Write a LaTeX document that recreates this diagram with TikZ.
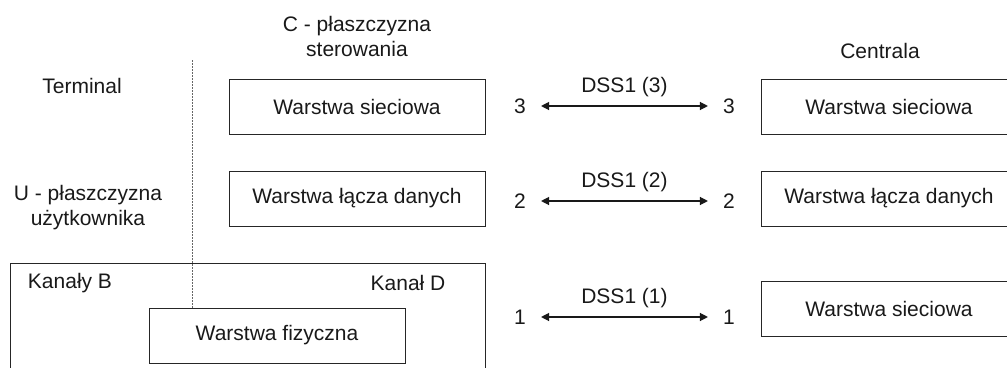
\documentclass[tikz,border=0pt]{standalone}
\usepackage{fontspec}
\setmainfont{Liberation Sans}
\usetikzlibrary{arrows.meta}
\begin{document}
\begin{tikzpicture}[x=1pt,y=-1pt,
  every node/.style={font=\fontsize{21}{25}\selectfont, text=black!90},
  layer/.style={draw=black!85, line width=1pt, minimum width=256pt, minimum height=55pt, inner sep=0pt},
  num/.style={inner xsep=15pt, inner ysep=0pt},
  link/.style={line width=1.2pt, draw=black!90, {Triangle[length=8pt,width=8pt]}-{Triangle[length=8pt,width=8pt]}},
  lbl/.style={above=6pt, inner sep=3pt},
  caption/.style={align=center, inner sep=0pt}
]
\useasboundingbox (0,0) rectangle (1007,367);
\clip (0,0) rectangle (1007,367);

% column headings
\node[caption] (cplane) at (357,36) {C - płaszczyzna\\sterowania};
\node[caption] (term) at (82,86) {Terminal};
\node[caption] (uplane) at (88,208) {U - płaszczyzna\\użytkownika};
\node[caption] (centr) at (880,51) {Centrala};

% terminal side layers
\node[layer] (netL) at (357,106.5) {Warstwa sieciowa};
\node[layer] (dlL) at (357,198.5) {Warstwa łącza danych};

% physical layer frame with B and D channels
\draw[draw=black!85, line width=1pt] (10,380) |- (485,263) -- (485,380);
\node[caption] (chB) at (70,283) {Kanały B};
\node[caption] (chD) at (408,283) {Kanał D};
\node[layer] (phys) at (277,335.5) {Warstwa fizyczna};

% separator between U and C planes
\coordinate (dtop) at (192,60);
\draw[black!60, line width=1pt, dash pattern=on 1.5pt off 1.5pt] (dtop) -- (dtop |- phys.north);

% exchange side layers
\node[layer] (netR) at (889,106.5) {Warstwa sieciowa};
\node[layer] (dlR) at (889,198.5) {Warstwa łącza danych};
\node[layer] (physR) at (889,308.5) {Warstwa sieciowa};

% peer-to-peer DSS1 links
\node[num] (n3l) at (520,106) {3};
\node[num] (n3r) at (729,106) {3};
\node[num] (n2l) at (520,201) {2};
\node[num] (n2r) at (729,201) {2};
\node[num] (n1l) at (520,317) {1};
\node[num] (n1r) at (729,317) {1};

\draw[link] (n3l.east) -- node[lbl] (d3) {DSS1 (3)} (n3r.west);
\draw[link] (n2l.east) -- node[lbl] (d2) {DSS1 (2)} (n2r.west);
\draw[link] (n1l.east) -- node[lbl] (d1) {DSS1 (1)} (n1r.west);
\end{tikzpicture}
\end{document}
